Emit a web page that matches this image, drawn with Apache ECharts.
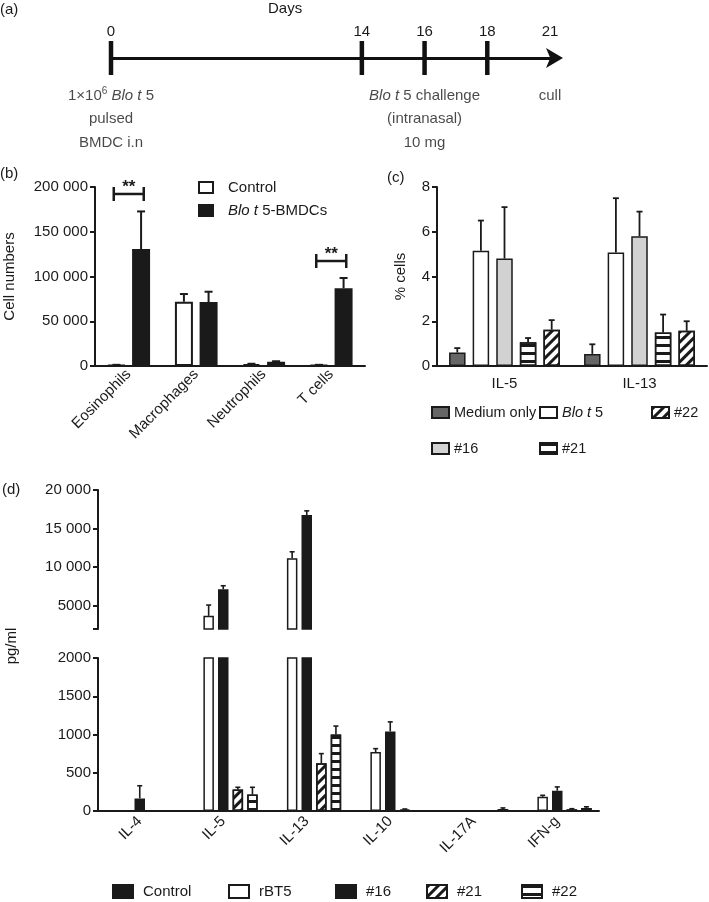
<!DOCTYPE html>
<html><head><meta charset="utf-8">
<script src="https://cdn.jsdelivr.net/npm/echarts@6/dist/echarts.min.js"></script>
<style>html,body{margin:0;padding:0;background:#fff;}.p{position:absolute;left:0;top:0;width:709px;height:902px;}</style>
</head><body>
<div id="ca" class="p"></div><div id="cb" class="p"></div><div id="cc" class="p"></div><div id="cd" class="p"></div>
<script>
// ================= DATA =================
// (a) timeline
var timelineSlots = ['0', ' ', '  ', '   ', '14', '16', '18', '21'];
var timelineTickDays = ['0', '14', '16', '18'];
var timelineNoteDays = ['0', '16', '21'];
var timelineNoteTexts = ['1×10{sup|6} {i|Blo t} 5\npulsed\nBMDC i.n', '{i|Blo t} 5 challenge\n(intranasal)\n10 mg', 'cull'];

// (b) cell numbers
var cellTypes = ['Eosinophils', 'Macrophages', 'Neutrophils', 'T cells'];
var cellControl = [1000, 71800, 2200, 1000];
var cellControlSem = [300, 8600, 300, 300];
var cellBlot = [130700, 71500, 4700, 86800];
var cellBlotSem = [42000, 11500, 600, 11500];
var cellSigCats = ['Eosinophils', 'T cells'];
var cellSigLevels = [192200, 117300];
var cellSigText = ['**', '**'];

// (c) % cells
var pctCats = ['IL-5', 'IL-13'];
var pctMedium = [0.6, 0.54];   var pctMediumSem = [0.2, 0.43];
var pctBlot = [5.15, 5.07];    var pctBlotSem = [1.35, 2.43];
var pct16 = [4.8, 5.8];        var pct16Sem = [2.3, 1.1];
var pct21 = [1.06, 1.5];       var pct21Sem = [0.19, 0.8];
var pct22 = [1.62, 1.57];      var pct22Sem = [0.43, 0.43];

// (d) cytokines pg/ml
var cytoCats = ['IL-4', 'IL-5', 'IL-13', 'IL-10', 'IL-17A', 'IFN-g'];
var cytoControl = [0, 0, 0, 0, 0, 0];          var cytoControlSem = [0, 0, 0, 0, 0, 0];
var cytoRbt5 = [0, 3700, 11150, 770, 0, 185];   var cytoRbt5Sem = [0, 1400, 850, 45, 0, 20];
var cyto16 = [165, 7150, 16750, 1040, 0, 265];  var cyto16Sem = [165, 450, 550, 125, 0, 50];
var cyto21 = [0, 280, 625, 18, 0, 22];          var cyto21Sem = [0, 30, 125, 8, 0, 8];
var cyto22 = [0, 215, 1000, 0, 25, 40];         var cyto22Sem = [0, 95, 110, 0, 15, 15];
var cytoUpperLabels = [5000, 10000, 15000, 20000];
var cytoUpperTicks = [2000, 5000, 10000, 15000, 20000];
var cytoBreak = 2000;

// ================= STYLE HELPERS =================
var FF = '"Liberation Sans", Arial, Helvetica, sans-serif';
var TC = '#1a1a1a';
function fmt(v) { return v >= 10000 ? String(v).replace(/\B(?=(\d{3})+(?!\d))/g, ' ') : String(v); }
function italicFmt(n) { return n.replace('Blo t', '{i|Blo t}'); }
var richI = { i: { fontStyle: 'italic', fontSize: 15, fontFamily: FF, color: TC } };
var richIc = { i: { fontStyle: 'italic', fontSize: 14.5, fontFamily: FF, color: TC } };
var diagDecal = { symbol: 'rect', symbolSize: 1, symbolKeepAspect: false, dashArrayX: [1, 0], dashArrayY: [3, 4], rotation: -Math.PI / 4, color: TC };
var horizDecal = { symbol: 'rect', symbolSize: 1, symbolKeepAspect: false, dashArrayX: [1, 0], dashArrayY: [2.5, 5], rotation: 0, color: TC };

function errSeries(vals, sems, idx, n, pitch, capW, lw, xi, yi, lo, hi) {
  var data = [];
  vals.forEach(function (v, i) {
    if (sems[i] > 0 && v >= lo && v <= hi) data.push([i, v, v + sems[i]]);
  });
  var off = (idx - (n - 1) / 2) * pitch;
  return {
    type: 'custom', xAxisIndex: xi, yAxisIndex: yi, z: 3, data: data, silent: true,
    renderItem: function (params, api) {
      var b = api.coord([api.value(0), api.value(1)]);
      var t = api.coord([api.value(0), api.value(2)]);
      var x = b[0] + off;
      return { type: 'group', children: [
        { type: 'line', shape: { x1: x, y1: b[1], x2: x, y2: t[1] }, style: { stroke: TC, lineWidth: lw } },
        { type: 'line', shape: { x1: x - capW / 2, y1: t[1], x2: x + capW / 2, y2: t[1] }, style: { stroke: TC, lineWidth: lw } }
      ] };
    }
  };
}

// ================= (a) TIMELINE =================
var ca = echarts.init(document.getElementById('ca'));
ca.setOption({
  animation: false,
  textStyle: { fontFamily: FF, color: TC },
  graphic: [
    { type: 'text', left: 0, top: 2, style: { text: '(a)', font: '15px ' + FF, fill: TC } },
    { type: 'text', left: 0, top: 166, style: { text: '(b)', font: '15px ' + FF, fill: TC } },
    { type: 'text', left: 387, top: 170, style: { text: '(c)', font: '15px ' + FF, fill: TC } },
    { type: 'text', left: 2, top: 482, style: { text: '(d)', font: '15px ' + FF, fill: TC } },
    { type: 'text', left: 268, top: 1, style: { text: 'Days', font: '15px ' + FF, fill: TC } }
  ],
  grid: { left: 111, width: 439, top: 58, height: 34 },
  xAxis: {
    type: 'category', data: timelineSlots, boundaryGap: false, position: 'top',
    axisLine: { onZero: false, symbol: ['none', 'arrow'], symbolSize: [15, 17], symbolOffset: [0, 13], lineStyle: { color: '#111', width: 3 } },
    axisTick: { show: false },
    axisLabel: { margin: 19, fontSize: 15, color: TC, interval: 0 }
  },
  yAxis: { type: 'value', min: -1, max: 0, show: false },
  series: [
    { type: 'scatter', symbol: 'rect', symbolSize: [4.5, 34], itemStyle: { color: '#111', opacity: 1 }, silent: true,
      data: timelineTickDays.map(function (d) { return [d, 0]; }) },
    { type: 'scatter', symbolSize: 0, silent: true,
      label: { show: true, position: 'bottom', distance: 26, fontSize: 15, lineHeight: 23.5, color: TC, fontFamily: FF,
        rich: { i: { fontStyle: 'italic', fontSize: 15, lineHeight: 23.5, fontFamily: FF, color: TC },
                sup: { fontSize: 10, lineHeight: 23.5, padding: [0, 0, 9, 0], fontFamily: FF, color: TC } } },
      data: timelineNoteDays.map(function (d, i) { return { value: [d, 0], label: { formatter: timelineNoteTexts[i] } }; }) }
  ]
});

// ================= (b) CELL NUMBERS =================
var cb = echarts.init(document.getElementById('cb'));
var bPitch = 18 * 1.37;
cb.setOption({
  animation: false,
  textStyle: { fontFamily: FF, color: TC },
  grid: { left: 95, width: 270, top: 187, height: 179 },
  legend: { orient: 'vertical', left: 198, top: 180, padding: 0, icon: 'rect', itemWidth: 14, itemHeight: 11, itemGap: 8,
    formatter: italicFmt, textStyle: { fontSize: 15, color: TC, padding: [0, 0, 0, 10], rich: richI },
    data: ['Control', 'Blo t 5-BMDCs'] },
  xAxis: { type: 'category', data: cellTypes,
    axisLine: { lineStyle: { color: TC, width: 2 } },
    axisTick: { alignWithLabel: true, length: 5, lineStyle: { width: 2, color: TC } },
    axisLabel: { rotate: 45, margin: 6, fontSize: 15, color: TC } },
  yAxis: { type: 'value', min: 0, max: 200000, interval: 50000, splitLine: { show: false },
    axisLine: { show: true, lineStyle: { color: TC, width: 2 } },
    axisTick: { show: true, length: 5, lineStyle: { width: 2, color: TC } },
    axisLabel: { formatter: fmt, fontSize: 15, margin: 7, color: TC },
    name: 'Cell numbers', nameLocation: 'middle', nameGap: 78, nameTextStyle: { fontSize: 15, color: TC } },
  series: [
    { name: 'Control', type: 'bar', data: cellControl, barWidth: 18, barGap: '37%',
      itemStyle: { color: '#fff', borderColor: TC, borderWidth: 2 } },
    { name: 'Blo t 5-BMDCs', type: 'bar', data: cellBlot, barWidth: 18, barGap: '37%',
      itemStyle: { color: TC, borderColor: TC, borderWidth: 2 } },
    errSeries(cellControl, cellControlSem, 0, 2, bPitch, 8, 2, 0, 0, 0, Infinity),
    errSeries(cellBlot, cellBlotSem, 1, 2, bPitch, 8, 2, 0, 0, 0, Infinity),
    { type: 'custom', z: 4, silent: true,
      data: cellSigCats.map(function (c, i) { return [c, cellSigLevels[i]]; }),
      renderItem: function (params, api) {
        var c = api.coord([api.value(0), api.value(1)]);
        var hw = 15, th = 7;
        return { type: 'group', children: [
          { type: 'line', shape: { x1: c[0] - hw, y1: c[1], x2: c[0] + hw, y2: c[1] }, style: { stroke: TC, lineWidth: 2.5 } },
          { type: 'line', shape: { x1: c[0] - hw, y1: c[1] - th, x2: c[0] - hw, y2: c[1] + th }, style: { stroke: TC, lineWidth: 2.5 } },
          { type: 'line', shape: { x1: c[0] + hw, y1: c[1] - th, x2: c[0] + hw, y2: c[1] + th }, style: { stroke: TC, lineWidth: 2.5 } },
          { type: 'text', x: c[0], y: c[1] + 2, style: { text: cellSigText[params.dataIndex], align: 'center', verticalAlign: 'bottom', font: 'bold 17px ' + FF, fill: TC } }
        ] };
      } }
  ]
});

// ================= (c) % CELLS =================
var cc = echarts.init(document.getElementById('cc'));
var cW = 16.5, cPitch = 16.5 * 1.43;
var cSeries = [
  { name: 'Medium only', data: pctMedium, sem: pctMediumSem, style: { color: '#666', borderColor: TC, borderWidth: 1.5 } },
  { name: 'Blo t 5', data: pctBlot, sem: pctBlotSem, style: { color: '#fff', borderColor: TC, borderWidth: 1.5 } },
  { name: '#16', data: pct16, sem: pct16Sem, style: { color: '#d2d2d2', borderColor: TC, borderWidth: 1.5 } },
  { name: '#21', data: pct21, sem: pct21Sem, style: { color: '#fff', borderColor: TC, borderWidth: 1.5, decal: horizDecal } },
  { name: '#22', data: pct22, sem: pct22Sem, style: { color: '#fff', borderColor: TC, borderWidth: 1.5, decal: diagDecal } }
];
var cOpt = [];
cSeries.forEach(function (s) {
  cOpt.push({ name: s.name, type: 'bar', data: s.data, barWidth: cW, barGap: '43%', itemStyle: s.style });
});
cSeries.forEach(function (s, i) {
  cOpt.push(errSeries(s.data, s.sem, i, 5, cPitch, 6, 1.8, 0, 0, 0, Infinity));
});
function cLegend(left, names) {
  return { orient: 'vertical', left: left, top: 405, padding: 0, icon: 'rect', itemWidth: 17, itemHeight: 11, itemGap: 21,
    formatter: italicFmt, textStyle: { fontSize: 14.5, color: TC, rich: richIc }, data: names };
}
cc.setOption({
  animation: false,
  textStyle: { fontFamily: FF, color: TC },
  grid: { left: 437, width: 270, top: 187, height: 179 },
  legend: [cLegend(431, ['Medium only', '#16']), cLegend(539, ['Blo t 5', '#21']), cLegend(651, ['#22'])],
  xAxis: { type: 'category', data: pctCats,
    axisLine: { lineStyle: { color: TC, width: 2 } },
    axisTick: { show: false },
    axisLabel: { margin: 10, fontSize: 15, color: TC } },
  yAxis: { type: 'value', min: 0, max: 8, interval: 2, splitLine: { show: false },
    axisLine: { show: true, lineStyle: { color: TC, width: 2 } },
    axisTick: { show: true, length: 5, lineStyle: { width: 2, color: TC } },
    axisLabel: { fontSize: 15, margin: 7, color: TC },
    name: '% cells', nameLocation: 'middle', nameGap: 29, nameTextStyle: { fontSize: 15, color: TC } },
  series: cOpt
});

// ================= (d) CYTOKINES =================
var cd = echarts.init(document.getElementById('cd'));
var dW = 10.5, dPitch = 10.5 * 1.39;
var dSeries = [
  { name: 'Control', data: cytoControl, sem: cytoControlSem, style: { color: TC, borderColor: TC, borderWidth: 1.5 } },
  { name: 'rBT5', data: cytoRbt5, sem: cytoRbt5Sem, style: { color: '#fff', borderColor: TC, borderWidth: 1.5 } },
  { name: '#16', data: cyto16, sem: cyto16Sem, style: { color: TC, borderColor: TC, borderWidth: 1.5 } },
  { name: '#21', data: cyto21, sem: cyto21Sem, style: { color: '#fff', borderColor: TC, borderWidth: 1.5, decal: diagDecal } },
  { name: '#22', data: cyto22, sem: cyto22Sem, style: { color: '#fff', borderColor: TC, borderWidth: 1.5, decal: horizDecal } }
];
var dOpt = [];
dSeries.forEach(function (s) {
  dOpt.push({ name: s.name, type: 'bar', xAxisIndex: 0, yAxisIndex: 0, barWidth: dW, barGap: '39%', clip: true,
    data: s.data.map(function (v) { return v > cytoBreak ? v : '-'; }), itemStyle: s.style });
  dOpt.push({ name: s.name, type: 'bar', xAxisIndex: 1, yAxisIndex: 1, barWidth: dW, barGap: '39%', clip: true,
    data: s.data, itemStyle: s.style });
});
dSeries.forEach(function (s, i) {
  dOpt.push(errSeries(s.data, s.sem, i, 5, dPitch, 5, 1.6, 0, 0, cytoBreak + 1, Infinity));
  dOpt.push(errSeries(s.data, s.sem, i, 5, dPitch, 5, 1.6, 1, 1, 0, cytoBreak));
});
var dLegLefts = [112, 228, 335, 426, 521];
var axisCommonY = {
  type: 'value', splitLine: { show: false },
  axisLine: { show: true, lineStyle: { color: TC, width: 2 } },
  axisTick: { show: true, length: 5, lineStyle: { width: 2, color: TC } },
  axisLabel: { formatter: fmt, fontSize: 15, margin: 7, color: TC }
};
cd.setOption({
  animation: false,
  textStyle: { fontFamily: FF, color: TC },
  grid: [{ left: 98, width: 501, top: 490, height: 139 }, { left: 98, width: 501, top: 658, height: 153 }],
  legend: dSeries.map(function (s, i) {
    return { left: dLegLefts[i], top: 884, padding: 0, icon: 'rect', itemWidth: 20, itemHeight: 13,
      textStyle: { fontSize: 15, color: TC, padding: [0, 0, 0, 5] }, data: [s.name] };
  }),
  graphic: [{ type: 'text', x: 12, y: 646, rotation: Math.PI / 2,
    style: { text: 'pg/ml', font: '15px ' + FF, fill: TC, align: 'center', verticalAlign: 'middle' } }],
  xAxis: [
    { type: 'category', gridIndex: 0, data: cytoCats, show: false },
    { type: 'category', gridIndex: 1, data: cytoCats,
      axisLine: { lineStyle: { color: TC, width: 2 } },
      axisTick: { alignWithLabel: true, length: 5, lineStyle: { width: 2, color: TC } },
      axisLabel: { rotate: 45, margin: 8, fontSize: 15, color: TC } }
  ],
  yAxis: [
    Object.assign({}, axisCommonY, { gridIndex: 0, min: cytoBreak, max: 20000,
      axisTick: { show: true, length: 5, lineStyle: { width: 2, color: TC }, customValues: cytoUpperTicks },
      axisLabel: { formatter: fmt, fontSize: 15, margin: 7, color: TC, customValues: cytoUpperLabels } }),
    Object.assign({}, axisCommonY, { gridIndex: 1, min: 0, max: cytoBreak, interval: 500 })
  ],
  series: dOpt
});
</script>
</body></html>
